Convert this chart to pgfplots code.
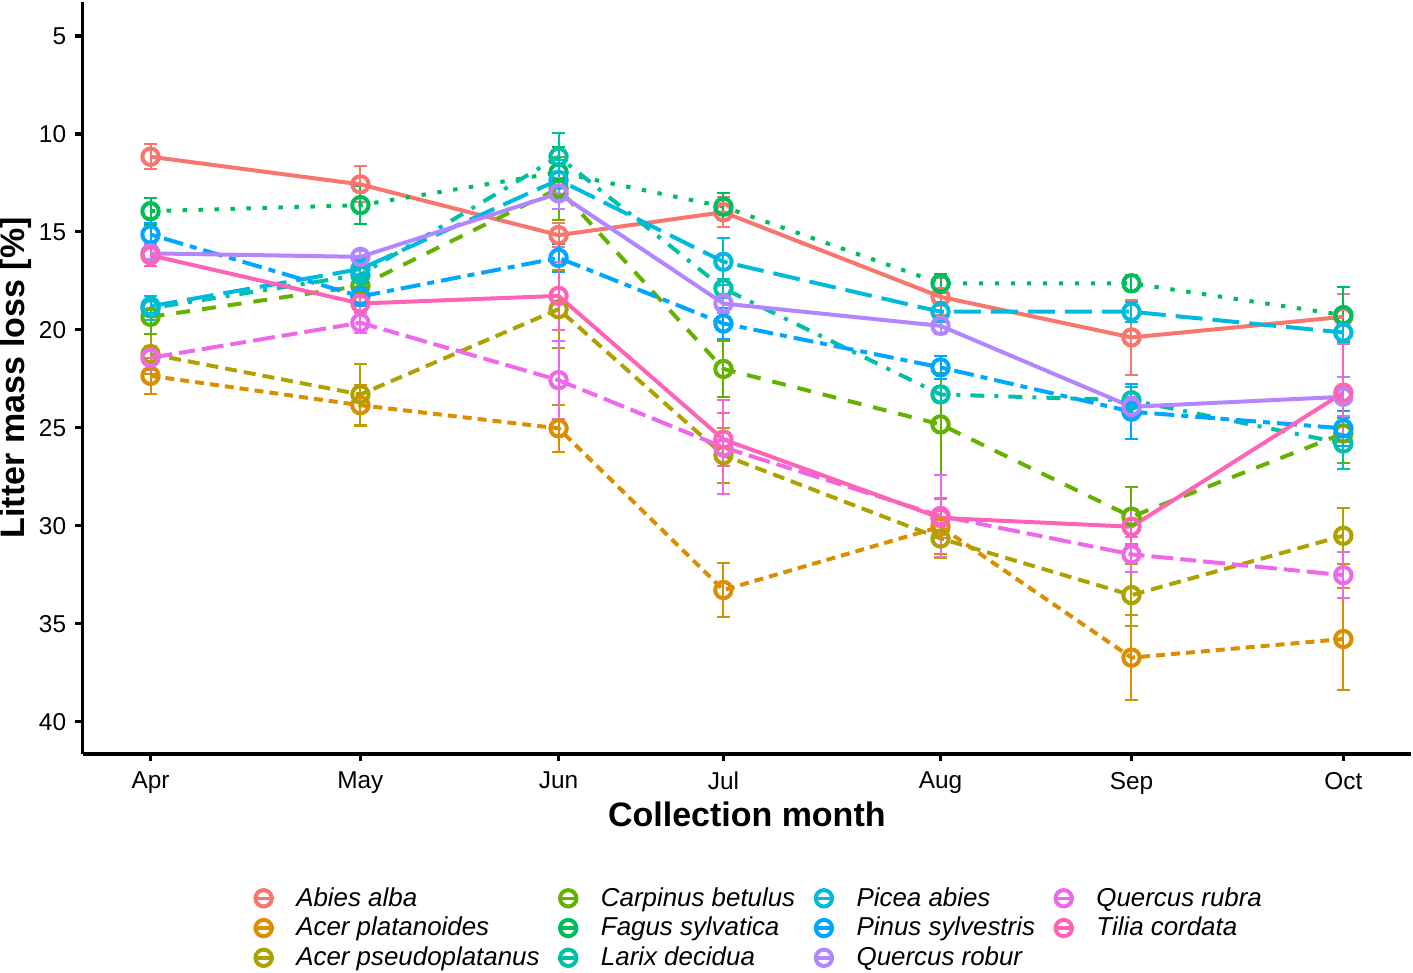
\documentclass[border=0pt]{standalone}
\usepackage{fontspec}
\setmainfont{Liberation Sans}
\usepackage{pgfplots}
\usepackage{pgfplotstable}
\pgfplotsset{compat=1.18}

\definecolor{cAbies}{HTML}{F8766D}
\definecolor{cAcPl}{HTML}{DB8E00}
\definecolor{cAcPs}{HTML}{AEA200}
\definecolor{cCarp}{HTML}{64B200}
\definecolor{cFagus}{HTML}{00BD5C}
\definecolor{cLarix}{HTML}{00C1A7}
\definecolor{cPicea}{HTML}{00BADE}
\definecolor{cPinus}{HTML}{00A6FF}
\definecolor{cQRob}{HTML}{B385FF}
\definecolor{cQRub}{HTML}{EF67EB}
\definecolor{cTilia}{HTML}{FF63B6}

% x = days after 1 April; mean mass loss and its error per species
\pgfplotstableread{
x     abies abiesE acpl acplE acps acpsE carp carpE fagus fagusE larix larixE picea piceaE pinus pinusE qrob qrobE qrub qrubE tilia tiliaE
0     11.17 0.65  22.35 0.93  21.24 1.00  19.34 0.90  13.95 0.68  18.90 0.60  18.80 0.50  15.14 0.60  16.10 0.30  21.43 0.60  16.20 0.57
32.2  12.58 0.92  23.85 1.05  23.30 1.55  17.76 1.00  13.64 0.96  17.20 0.80  16.90 0.60  18.30 0.50  16.28 0.30  19.64 0.50  18.66 0.40
62.6  15.17 0.60  25.03 1.20  18.95 2.00  12.79 1.60  11.97 1.30  11.17 1.20  12.35 1.00  16.33 0.70  13.04 0.80  22.57 2.00  18.27 1.75
87.9  14.00 0.75  33.28 1.36  26.40 1.40  22.00 1.45  13.72 0.70  17.89 0.50  16.53 1.20  19.68 0.80  18.66 0.50  26.00 2.40  25.60 1.35
121.2 18.32 0.95  30.05 1.40  30.65 1.00  24.83 2.60  17.63 0.50  23.30 0.40  19.08 0.50  21.92 0.60  19.80 0.40  29.50 2.10  29.60 1.00
150.5 20.39 1.93  36.73 2.17  33.54 1.57  29.54 1.50  17.63 0.40  23.60 0.70  19.08 0.50  24.18 1.40  23.93 0.50  31.46 0.90  30.05 0.90
183   19.34 1.16  35.78 2.60  30.51 1.42  25.29 1.50  19.25 1.45  25.80 1.30  20.14 0.50  25.03 0.90  23.42 1.00  32.52 1.17  23.21 2.50
}\lml

% three layers as in the original: error bars, then lines, then points
\newcommand{\errs}[2]{\addplot[forget plot, color=#2, only marks, mark=*, mark size=0pt,
  error bars/.cd, y dir=both, y explicit, error mark=|,
  error bar style={line width=1pt, solid},
  error mark options={line width=1pt, mark size=3.3pt, solid}]
  table[x=x, y=#1, y error=#1E] {\lml};}
\newcommand{\lns}[3]{\addplot[forget plot, color=#2, line width=2pt, line join=round, #3]
  table[x=x, y=#1] {\lml};}
\newcommand{\pts}[2]{\addplot[forget plot, color=#2, only marks, mark=o, mark size=4.1pt,
  mark options={line width=2pt, solid}] table[x=x, y=#1] {\lml};}

\pgfplotsset{sp key/.style={color=#1, line width=2pt, solid,
  legend image code/.code={
    \draw[line width=1.7pt] (-5pt,0pt) -- (5pt,0pt);
    \draw[line width=2pt] (0pt,0pt) circle (4.1pt);}}}

\begin{document}
\begin{tikzpicture}
\begin{axis}[
  scale only axis,
  width=664.5pt, height=376pt,
  xmin=-10.43, xmax=193.4,
  ymin=3.27, ymax=41.63,
  y dir=reverse,
  axis x line=bottom, axis y line=left,
  axis line style={-, line width=1.9pt, black},
  tick style={line width=1.7pt, black},
  tick align=outside,
  major tick length=3.7pt,
  xtick={0,32.2,62.6,87.9,121.2,150.5,183},
  xticklabels={Apr,May,Jun,Jul,Aug,Sep,Oct},
  ytick={5,10,...,40},
  ticklabel style={font=\fontsize{12.2}{14}\selectfont},
  xticklabel style={yshift=-2pt},
  yticklabel style={xshift=-1pt},
  /pgf/number format/assume math mode=true,
  xlabel={Collection month},
  ylabel={Litter mass loss [\%]},
  every axis x label/.style={at={(axis description cs:0.5,0)}, anchor=base,
    yshift=-36.5pt, font=\fontsize{17}{20}\selectfont\bfseries},
  every axis y label/.style={at={(axis description cs:-0.0436,0.5)}, rotate=90, anchor=base,
    inner sep=0pt, font=\fontsize{17}{20}\selectfont\bfseries},
  legend columns=4,
  legend cell align=left,
  legend style={at={(axis description cs:0.1272,0)}, anchor=north west,
    yshift=-64.7pt, draw=none, fill=none, inner sep=0pt,
    font=\fontsize{12.95}{15}\selectfont\itshape,
    /tikz/every odd column/.append style={column sep=8.5pt},
    /tikz/every even column/.append style={column sep=6.5pt}},
]
\errs{abies}{cAbies}
\errs{acpl}{cAcPl}
\errs{acps}{cAcPs}
\errs{carp}{cCarp}
\errs{fagus}{cFagus}
\errs{larix}{cLarix}
\errs{picea}{cPicea}
\errs{pinus}{cPinus}
\errs{qrob}{cQRob}
\errs{qrub}{cQRub}
\errs{tilia}{cTilia}

\lns{abies}{cAbies}{solid}
\lns{acpl}{cAcPl}{dash pattern=on 4.5pt off 3pt}
\lns{acps}{cAcPs}{dash pattern=on 6pt off 3.5pt}
\lns{carp}{cCarp}{dash pattern=on 7pt off 6pt}
\lns{fagus}{cFagus}{dash pattern=on 2.2pt off 5.8pt}
\lns{larix}{cLarix}{dash pattern=on 2pt off 5pt on 7pt off 5pt}
\lns{picea}{cPicea}{dash pattern=on 13.5pt off 5pt}
\lns{pinus}{cPinus}{dash pattern=on 3.5pt off 3.5pt on 10pt off 3.5pt}
\lns{qrob}{cQRob}{solid}
\lns{qrub}{cQRub}{dash pattern=on 11pt off 3.5pt on 8pt off 3.5pt}
\lns{tilia}{cTilia}{solid}

\pts{abies}{cAbies}
\pts{acpl}{cAcPl}
\pts{acps}{cAcPs}
\pts{carp}{cCarp}
\pts{fagus}{cFagus}
\pts{larix}{cLarix}
\pts{picea}{cPicea}
\pts{pinus}{cPinus}
\pts{qrob}{cQRob}
\pts{qrub}{cQRub}
\pts{tilia}{cTilia}

\addlegendimage{sp key=cAbies}\addlegendentry{Abies alba}
\addlegendimage{sp key=cCarp}\addlegendentry{Carpinus betulus}
\addlegendimage{sp key=cPicea}\addlegendentry{Picea abies}
\addlegendimage{sp key=cQRub}\addlegendentry{Quercus rubra}
\addlegendimage{sp key=cAcPl}\addlegendentry{Acer platanoides}
\addlegendimage{sp key=cFagus}\addlegendentry{Fagus sylvatica}
\addlegendimage{sp key=cPinus}\addlegendentry{Pinus sylvestris}
\addlegendimage{sp key=cTilia}\addlegendentry{Tilia cordata}
\addlegendimage{sp key=cAcPs}\addlegendentry{Acer pseudoplatanus}
\addlegendimage{sp key=cLarix}\addlegendentry{Larix decidua}
\addlegendimage{sp key=cQRob}\addlegendentry{Quercus robur}
\end{axis}
\end{tikzpicture}
\end{document}
